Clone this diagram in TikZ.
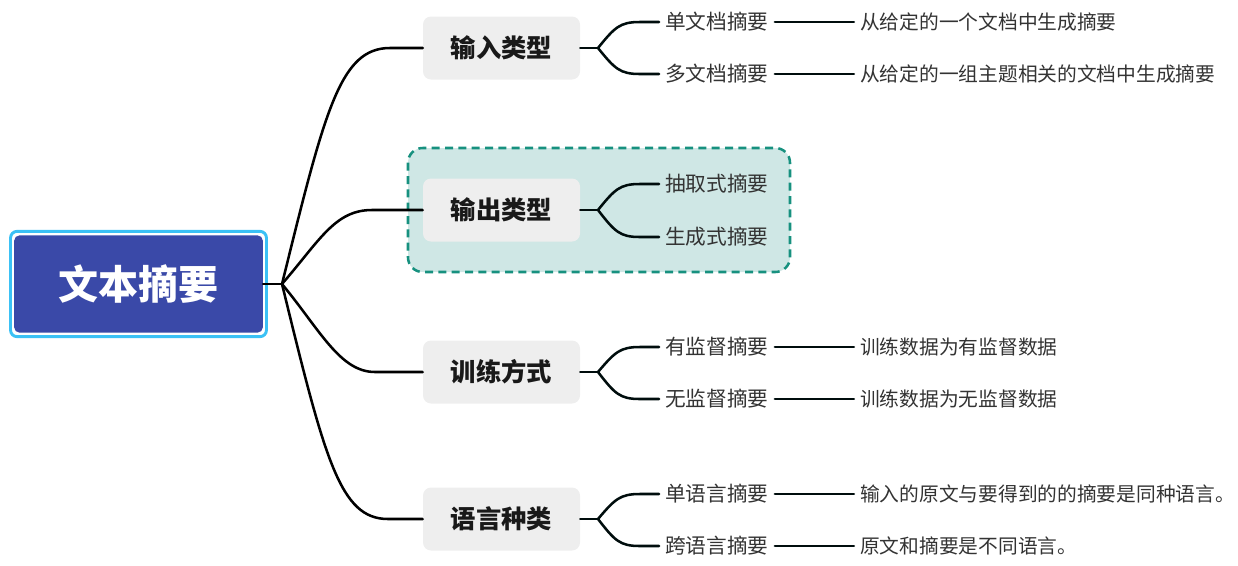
\documentclass[tikz,border=0pt]{standalone}
\usepackage{fontspec}
\setmainfont{Noto Sans CJK SC}
\usetikzlibrary{positioning}

\definecolor{rootblue}{HTML}{3A49A8}
\definecolor{rootring}{HTML}{3BC1F5}
\definecolor{topicgray}{HTML}{EEEEEE}
\definecolor{boxfill}{HTML}{CFE7E5}
\definecolor{boxline}{HTML}{17917F}
\definecolor{leafgray}{HTML}{333333}

\tikzset{
  ring/.style={draw=rootring,line width=2.2pt,rounded corners=5pt,minimum width=192pt,minimum height=79pt},
  rootnode/.style={fill=rootblue,text=white,rounded corners=4pt,minimum width=186.5pt,minimum height=73pt,font=\fontsize{30}{34}\selectfont\bfseries},
  topic/.style={fill=topicgray,rounded corners=6pt,minimum width=117.75pt,minimum height=47.25pt,text=black!90,font=\fontsize{19}{22}\selectfont\bfseries},
  leaf/.style={anchor=west,inner xsep=4.5pt,inner ysep=2pt,text=leafgray,font=\fontsize{15.5}{18}\selectfont},
  note/.style={leaf,font=\fontsize{14.8}{18}\selectfont},
  branch/.style={line width=1.9pt,line cap=round},
  twig/.style={line width=1.9pt,line cap=round,draw=black!90!teal}
}

\begin{document}
\begin{tikzpicture}[x=0.75pt,y=-0.75pt]
\useasboundingbox (0,0) rectangle (1238,565);

% highlight round the output branch
\draw[boxline,fill=boxfill,line width=1.9pt,dash pattern=on 6pt off 4pt,rounded corners=11pt] (408,148) rectangle (790,272);

% root
\node[ring] (rootbox) at (138.5,284) {};
\node[rootnode] (root) at (138.5,284) {文本摘要};
\coordinate (hub) at (282,284);

% topics
\node[topic] (t1) at (501.5,48) {输入类型};
\node[topic] (t2) at (501.5,210) {输出类型};
\node[topic] (t3) at (501.5,372) {训练方式};
\node[topic] (t4) at (501.5,519) {语言种类};

\draw[branch] (root.east) -- (hub);
\draw[branch] (hub) .. controls (325,110) and (340,48) .. (390,48) -- (t1.west);
\draw[branch] (hub) .. controls (320,240) and (335,210) .. (372,210) -- (t2.west);
\draw[branch] (hub) .. controls (320,330) and (340,372) .. (375,372) -- (t3.west);
\draw[branch] (hub) .. controls (325,460) and (340,519) .. (388,519) -- (t4.west);

% input type
\begin{scope}
\node[leaf] (s1) at (659,22) {单文档摘要};
\node[leaf] (s2) at (659,74) {多文档摘要};
\node[note] (d1) at ([xshift=59.25pt]s1.east) {从给定的一个文档中生成摘要};
\node[note] (d2) at ([xshift=59.25pt]s2.east) {从给定的一组主题相关的文档中生成摘要};
\coordinate (f1) at (598,48);
\draw[twig] (t1.east) -- (f1);
\draw[twig] (f1) .. controls (615,27) and (620,22) .. (640,22) -- (s1.west);
\draw[twig] (f1) .. controls (615,69) and (620,74) .. (640,74) -- (s2.west);
\draw[twig] (s1.east) -- (d1.west);
\draw[twig] (s2.east) -- (d2.west);
\end{scope}

% output type
\begin{scope}
\node[leaf] (s1) at (659,184) {抽取式摘要};
\node[leaf] (s2) at (659,237) {生成式摘要};
\coordinate (f2) at (598,210);
\draw[twig] (t2.east) -- (f2);
\draw[twig] (f2) .. controls (615,189) and (620,184) .. (640,184) -- (s1.west);
\draw[twig] (f2) .. controls (615,232) and (620,237) .. (640,237) -- (s2.west);
\end{scope}

% training
\begin{scope}
\node[leaf] (s1) at (659,347) {有监督摘要};
\node[leaf] (s2) at (659,399) {无监督摘要};
\node[note] (d1) at ([xshift=59.25pt]s1.east) {训练数据为有监督数据};
\node[note] (d2) at ([xshift=59.25pt]s2.east) {训练数据为无监督数据};
\coordinate (f3) at (598,372);
\draw[twig] (t3.east) -- (f3);
\draw[twig] (f3) .. controls (615,352) and (620,347) .. (640,347) -- (s1.west);
\draw[twig] (f3) .. controls (615,394) and (620,399) .. (640,399) -- (s2.west);
\draw[twig] (s1.east) -- (d1.west);
\draw[twig] (s2.east) -- (d2.west);
\end{scope}

% language
\begin{scope}
\node[leaf] (s1) at (659,494) {单语言摘要};
\node[leaf] (s2) at (659,546) {跨语言摘要};
\node[note] (d1) at ([xshift=59.25pt]s1.east) {输入的原文与要得到的的摘要是同种语言。};
\node[note] (d2) at ([xshift=59.25pt]s2.east) {原文和摘要是不同语言。};
\coordinate (f4) at (598,519);
\draw[twig] (t4.east) -- (f4);
\draw[twig] (f4) .. controls (615,499) and (620,494) .. (640,494) -- (s1.west);
\draw[twig] (f4) .. controls (615,541) and (620,546) .. (640,546) -- (s2.west);
\draw[twig] (s1.east) -- (d1.west);
\draw[twig] (s2.east) -- (d2.west);
\end{scope}

\end{tikzpicture}
\end{document}
